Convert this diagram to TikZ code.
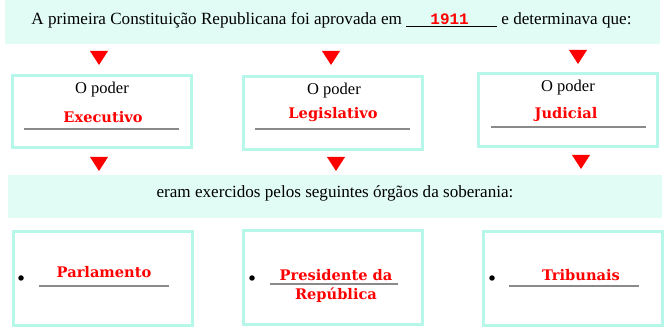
\documentclass[tikz,border=0pt]{standalone}
\usepackage{fontspec}
\setmainfont{Liberation Serif}
\newfontfamily\slabfont{DejaVu Serif}
\newfontfamily\digitfont{Liberation Mono}
\usetikzlibrary{positioning}
\definecolor{mint}{HTML}{E0FCF5}
\definecolor{boxline}{HTML}{B6F7EA}
\definecolor{ulgray}{HTML}{8A8A8A}
\begin{document}
\begin{tikzpicture}[x=1pt,y=-1pt,
  banner/.style={fill=mint, draw=none, inner sep=0},
  pbox/.style={draw=boxline, line width=3pt, fill=white, inner sep=0, minimum width=179pt},
  blacktxt/.style={font=\fontsize{16.5}{19}\selectfont, inner sep=0, text=black},
  bannertxt/.style={font=\fontsize{17.1}{20}\selectfont, inner sep=0, text=black},
  redtxt/.style={font=\slabfont\bfseries\fontsize{14.6}{17}\selectfont, text=red, inner sep=0, align=center},
  uline/.style={draw=ulgray, line width=1.3pt},
  tri/.style={fill=red},
  dot/.style={circle, fill=black, inner sep=0, minimum size=5.5pt}
]
\useasboundingbox (0,0) rectangle (666,328);
% top banner
\node[banner, minimum width=655pt, minimum height=44pt] (top) at (332.5,22) {};
\node[bannertxt, anchor=base] (toptext) at (331.5,25)
  {A primeira Constituição Republicana foi aprovada em \underline{\makebox[91pt]{\hspace{-4pt}\color{red}\digitfont\bfseries\fontsize{16}{19}\selectfont 1911}} e determinava que:};
% triangles row 1
\fill[tri] (90,51) -- (108,51) -- (99,65) -- cycle;
\fill[tri] (322,51) -- (340,51) -- (331,65) -- cycle;
\fill[tri] (569,50) -- (587,50) -- (578,64) -- cycle;
% boxes row 1
\node[pbox, minimum height=72pt] (b1) at (102,111.5) {};
\node[pbox, minimum height=73pt] (b2) at (332.5,113) {};
\node[pbox, minimum height=73pt] (b3) at (567.5,110) {};
\node[blacktxt] (p1) at (102,90) {O poder};
\node[blacktxt] (p2) at (334,91) {O poder};
\node[blacktxt] (p3) at (568,88) {O poder};
\node[redtxt] (r1) at (103,117) {Executivo};
\node[redtxt] (r2) at (333,115) {Legislativo};
\node[redtxt] (r3) at (566,114) {Judicial};
\draw[uline] (24,129) -- (179,129);
\draw[uline] (255,129) -- (410,129);
\draw[uline] (491,127) -- (646,127);
% triangles row 2
\fill[tri] (90,157) -- (108,157) -- (99,171) -- cycle;
\fill[tri] (327,157) -- (345,157) -- (336,171) -- cycle;
\fill[tri] (572,155) -- (590,155) -- (581,169) -- cycle;
% middle banner
\node[banner, minimum width=654pt, minimum height=43pt] (mid) at (335,196.5) {};
\node[bannertxt] (midtext) at (335,193) {eram exercidos pelos seguintes órgãos da soberania:};
% boxes row 2
\node[pbox, minimum height=94pt] (c1) at (103,278.5) {};
\node[pbox, minimum height=94pt] (c2) at (332.5,277.5) {};
\node[pbox, minimum height=94pt] (c3) at (572.5,278.5) {};
\node[dot] (d1) at (21,278) {};
\node[dot] (d2) at (252,278) {};
\node[dot] (d3) at (492,278) {};
\node[redtxt] (o1) at (104,272) {Parlamento};
\node[redtxt] (o2) at (336,275) {Presidente da};
\node[redtxt] (o2b) at (336,295) {República};
\node[redtxt] (o3) at (581,275) {Tribunais};
\draw[uline] (39,286) -- (169,286);
\draw[uline] (270,284) -- (398,284);
\draw[uline] (509,286) -- (639,286);
\end{tikzpicture}
\end{document}
